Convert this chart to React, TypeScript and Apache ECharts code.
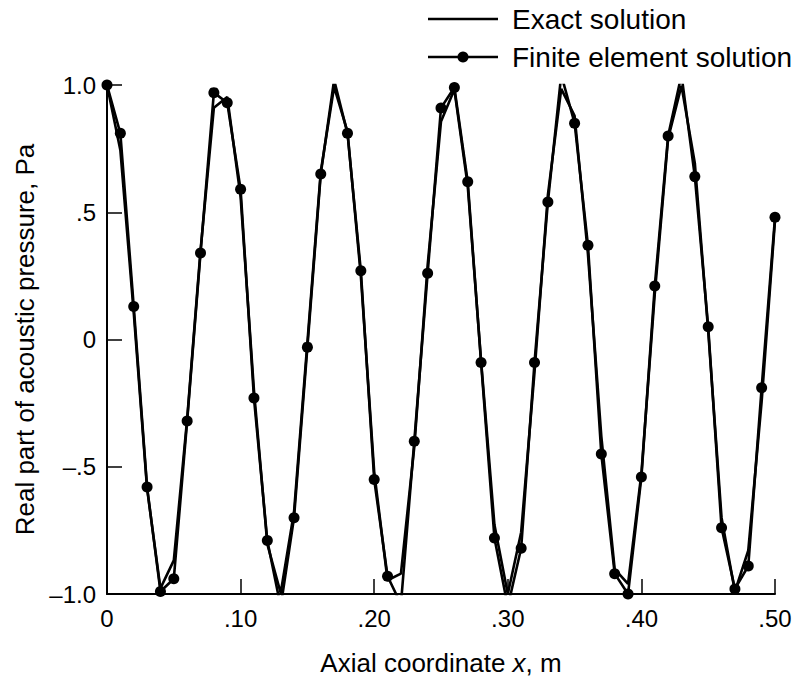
import { useEffect, useRef } from 'react';
import * as echarts from 'echarts';

// Nodal positions along the duct, m
const xNodes = [
  0, 0.01, 0.02, 0.03, 0.04, 0.05, 0.06, 0.07, 0.08, 0.09,
  0.1, 0.11, 0.12, 0.13, 0.14, 0.15, 0.16, 0.17, 0.18, 0.19,
  0.2, 0.21, 0.22, 0.23, 0.24, 0.25, 0.26, 0.27, 0.28, 0.29,
  0.3, 0.31, 0.32, 0.33, 0.34, 0.35, 0.36, 0.37, 0.38, 0.39,
  0.4, 0.41, 0.42, 0.43, 0.44, 0.45, 0.46, 0.47, 0.48, 0.49,
  0.5,
];

// Exact solution at the nodes, Pa
const exactValues = [
  1.0, 0.744, 0.106, -0.586, -0.978, -0.868, -0.312, 0.35, 0.911, 0.953,
  0.56, -0.2, -0.804, -0.996, -0.677, -0.011, 0.66, 0.993, 0.817, 0.25,
  -0.52, -0.946, -0.92, -0.423, 0.292, 0.857, 0.982, 0.604, -0.084, -0.728,
  -1.0, -0.757, -0.128, 0.568, 0.985, 0.879, 0.334, -0.381, -0.902, -0.96,
  -0.526, 0.178, 0.79, 0.997, 0.693, 0.033, -0.7, -0.99, -0.829, -0.244,
  0.467,
];

// Finite element solution at the nodes, Pa
const feValues = [
  1.0, 0.81, 0.13, -0.58, -0.99, -0.94, -0.32, 0.34, 0.97, 0.93,
  0.59, -0.23, -0.79, -1.05, -0.7, -0.03, 0.65, 1.02, 0.81, 0.27,
  -0.55, -0.93, -1.04, -0.4, 0.26, 0.91, 0.99, 0.62, -0.09, -0.78,
  -1.05, -0.82, -0.09, 0.54, 1.04, 0.85, 0.37, -0.45, -0.92, -1.0,
  -0.54, 0.21, 0.8, 1.04, 0.64, 0.05, -0.74, -0.98, -0.89, -0.19,
  0.48,
];

const xTickLabels = ['0', '.10', '.20', '.30', '.40', '.50'];
const yTickLabels = ['\u20131.0', '\u2013.5', '0', '.5', '1.0'];

const FONT = '"Liberation Sans", Arial, Helvetica, sans-serif';
const TICK_FS = 24;
const NAME_FS = 26;
const LEGEND_FS = 28;
const LINE_W = 2.6;

export default function App() {
  const ref = useRef<HTMLDivElement>(null);

  useEffect(() => {
    if (!ref.current) return;
    const chart = echarts.init(ref.current, undefined, { renderer: 'svg' });

    const exactData = xNodes.map((x, i) => [x, exactValues[i]]);
    const feData = xNodes.map((x, i) => [x, feValues[i]]);

    const axisCommon = {
      axisLine: { show: true, onZero: false, lineStyle: { color: '#000', width: 2 } },
      axisTick: { show: true, inside: true, length: 15, lineStyle: { color: '#000', width: 1.5 } },
      splitLine: { show: false },
    };

    chart.setOption({
      animation: false,
      backgroundColor: '#ffffff',
      textStyle: { fontFamily: FONT, color: '#000' },
      grid: { left: 107, right: 20, top: 85, bottom: 86, containLabel: false },
      xAxis: {
        type: 'value',
        min: 0,
        max: 0.5,
        interval: 0.1,
        ...axisCommon,
        axisLabel: {
          fontSize: TICK_FS,
          fontFamily: FONT,
          color: '#000',
          margin: 12,
          formatter: (v: number) => xTickLabels[Math.round(v / 0.1)] ?? '',
        },
        name: 'Axial coordinate {i|x}, m',
        nameLocation: 'middle',
        nameGap: 56,
        nameTextStyle: {
          fontSize: NAME_FS,
          fontFamily: FONT,
          color: '#000',
          rich: { i: { fontStyle: 'italic', fontSize: NAME_FS, fontFamily: FONT, color: '#000' } },
        },
      },
      yAxis: {
        type: 'value',
        min: -1,
        max: 1,
        interval: 0.5,
        ...axisCommon,
        axisLabel: {
          fontSize: TICK_FS,
          fontFamily: FONT,
          color: '#000',
          margin: 11,
          formatter: (v: number) => yTickLabels[Math.round((v + 1) / 0.5)] ?? '',
        },
        name: 'Real part of acoustic pressure, Pa',
        nameLocation: 'middle',
        nameGap: 64,
        nameTextStyle: { fontSize: NAME_FS, fontFamily: FONT, color: '#000' },
      },
      graphic: [
        {
          type: 'line',
          shape: { x1: 428, y1: 19, x2: 498, y2: 19 },
          style: { stroke: '#000', lineWidth: LINE_W },
        },
        {
          type: 'text',
          x: 512,
          y: 19,
          style: { text: 'Exact solution', fontSize: LEGEND_FS, fontFamily: FONT, fill: '#000', verticalAlign: 'middle' },
        },
        {
          type: 'line',
          shape: { x1: 428, y1: 57, x2: 498, y2: 57 },
          style: { stroke: '#000', lineWidth: LINE_W },
        },
        {
          type: 'circle',
          shape: { cx: 463, cy: 57, r: 5.5 },
          style: { fill: '#000' },
        },
        {
          type: 'text',
          x: 512,
          y: 57,
          style: { text: 'Finite element solution', fontSize: LEGEND_FS, fontFamily: FONT, fill: '#000', verticalAlign: 'middle' },
        },
      ],
      series: [
        {
          name: 'Exact solution',
          type: 'line',
          data: exactData,
          symbol: 'none',
          clip: true,
          lineStyle: { color: '#000', width: LINE_W },
          z: 2,
        },
        {
          name: 'Finite element solution',
          type: 'line',
          data: feData,
          symbol: 'circle',
          symbolSize: 11,
          clip: true,
          itemStyle: { color: '#000' },
          lineStyle: { color: '#000', width: LINE_W },
          z: 3,
        },
      ],
    });

    return () => chart.dispose();
  }, []);

  return (
    <div
      ref={ref}
      style={{ position: 'fixed', left: 0, top: 0, width: 795, height: 681, background: '#fff' }}
    />
  );
}
